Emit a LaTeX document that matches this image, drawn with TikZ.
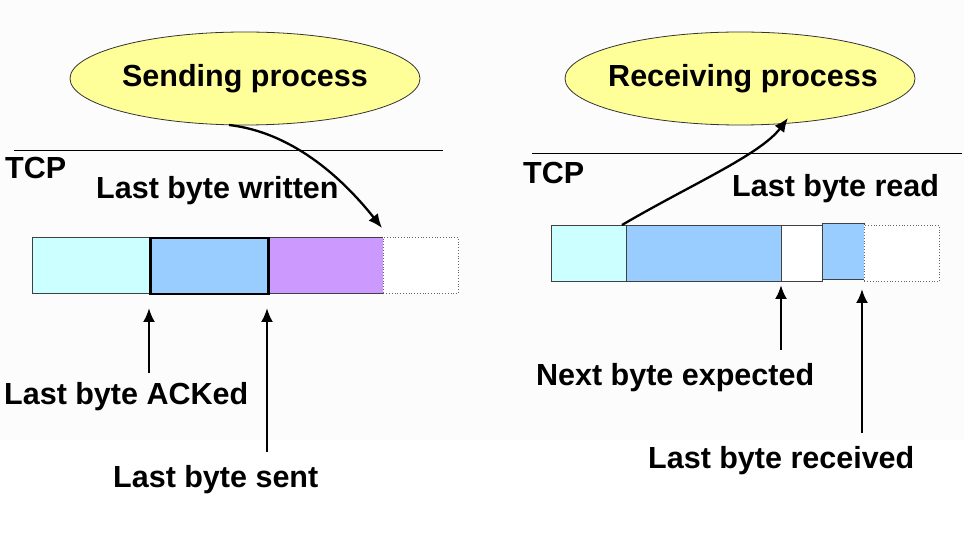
\documentclass[tikz,border=0pt]{standalone}
\usepackage{fontspec}
\setmainfont{Liberation Sans}
\usetikzlibrary{shapes.geometric,arrows.meta}
\definecolor{procyellow}{HTML}{FFFF99}
\definecolor{cyanbuf}{HTML}{CCFFFF}
\definecolor{bluebuf}{HTML}{99CCFF}
\definecolor{purplebuf}{HTML}{CC99FF}
\definecolor{bgfaint}{HTML}{FCFCFC}
\newcommand{\lblfont}{\fontsize{30.5}{36}\selectfont\bfseries}
\begin{document}
\begin{tikzpicture}[x=1pt,y=-1pt,
  proc/.style={ellipse, draw=black!80, line width=0.8pt, fill=procyellow, minimum width=350pt, minimum height=93pt, inner sep=0pt},
  proctext/.style={inner sep=0pt, font=\lblfont},
  cell/.style={draw=black!75, line width=0.8pt, minimum height=56pt, inner sep=0pt, anchor=north west},
  freecell/.style={cell, draw=black!60, dotted, fill=white},
  lbl/.style={anchor=base west, inner sep=0pt, font=\lblfont},
  ptr/.style={-{Latex[length=14pt,width=12pt]}, line width=2.3pt},
  sep/.style={line width=0.9pt}]
\useasboundingbox (0,0) rectangle (964,545);
\fill[bgfaint] (0,0) rectangle (964,440);

% processes
\node[proc] (send) at (245,78.5) {};
\node[proctext] (sendt) at (send.center) {Sending process};
\node[proc] (recv) at (740,78.5) {};
\node[proctext] (recvt) at ([xshift=3pt]recv.center) {Receiving process};

% separator lines
\coordinate (la) at (14,150); \coordinate (lb) at (443,150);
\coordinate (ra) at (532,153); \coordinate (rb) at (962,153);
\draw[sep] (la) -- (lb);
\draw[sep] (ra) -- (rb);

% labels
\node[lbl] (tcpl) at (5,179) {TCP};
\node[lbl] (tcpr) at (523,184) {TCP};
\node[lbl] (lbw) at (96,199) {Last byte written};
\node[lbl] (lbr) at (732,197) {Last byte read};
\node[lbl] (lba) at (4,404) {Last byte ACKed};
\node[lbl] (lbs) at (113,487) {Last byte sent};
\node[lbl] (nbe) at (536,385) {Next byte expected};
\node[lbl] (lbrc) at (648,468) {Last byte received};

% sending buffer
\node[cell, fill=cyanbuf, minimum width=117pt] (s1) at (32,237) {};
\node[cell, fill=purplebuf, minimum width=116pt] (s3) at (267,237) {};
\node[freecell, minimum width=75pt] (s4) at (383,237) {};
\node[cell, fill=bluebuf, draw=black, line width=2.5pt, minimum width=118pt] (s2) at (149,237) {};

% receiving buffer
\node[cell, fill=cyanbuf, minimum width=75pt] (r1) at (551,225) {};
\node[cell, fill=bluebuf, minimum width=155pt] (r2) at (626,225) {};
\node[cell, fill=white, minimum width=41pt] (r3) at (781,225) {};
\node[cell, fill=bluebuf, minimum width=42pt] (r4) at (822,223) {};
\node[freecell, minimum width=75pt] (r5) at (864,225) {};

% curved arrows
\coordinate (sfrom) at (229,125);
\coordinate (sto) at (382,228);
\draw[ptr] (sfrom) .. controls (290,132) and (340,175) .. (sto);
\coordinate (rfrom) at (622,225);
\coordinate (rto) at (788,118);
\draw[ptr] (rfrom) .. controls (690,185) and (760,155) .. (rto);

% pointer arrows
\coordinate (a1b) at (149,373); \coordinate (a1t) at (149,308);
\coordinate (a2b) at (267,452); \coordinate (a2t) at (267,308);
\coordinate (a3b) at (781,350); \coordinate (a3t) at (781,285);
\coordinate (a4b) at (862,433); \coordinate (a4t) at (862,289);
\draw[ptr] (a1b) -- (a1t);
\draw[ptr] (a2b) -- (a2t);
\draw[ptr] (a3b) -- (a3t);
\draw[ptr] (a4b) -- (a4t);
\end{tikzpicture}
\end{document}
